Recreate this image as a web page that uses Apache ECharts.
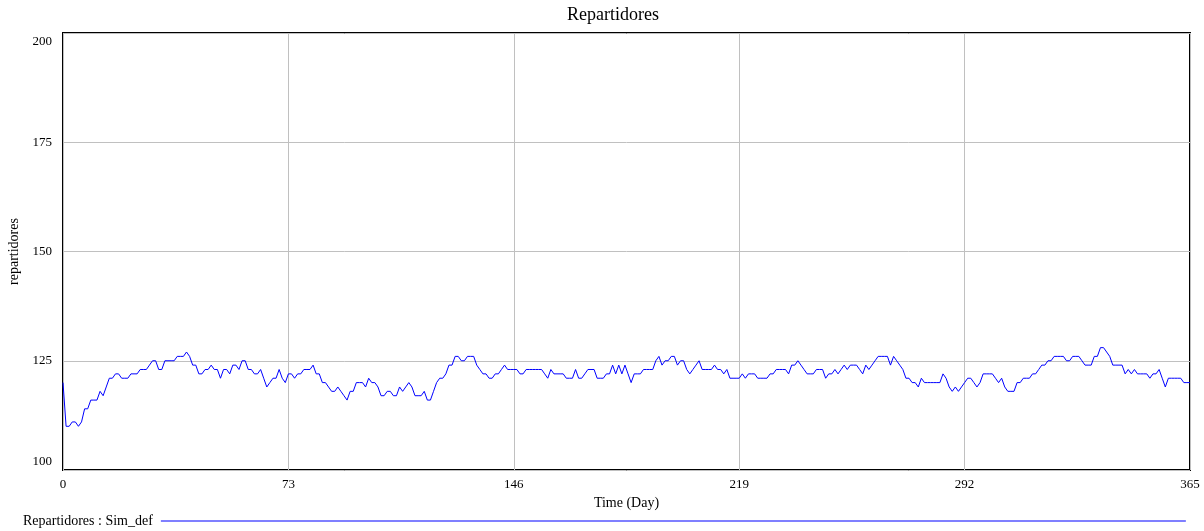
<!DOCTYPE html>
<html>
<head>
<meta charset="utf-8">
<script src="https://cdn.jsdelivr.net/npm/echarts@6/dist/echarts.min.js"></script>
<style>
  html, body { margin: 0; padding: 0; background: #fff; }
  #chart { width: 1204px; height: 531px; }
</style>
</head>
<body>
<div id="chart"></div>
<script>
// Daily number of delivery riders (repartidores) over one simulated year
const days = Array.from({ length: 366 }, (_, i) => i);
const repartidores = [
  120,110,110,111,111,110,111,114,114,116,116,116,118,117,119,121,121,122,122,121,
  121,121,122,122,122,123,123,123,124,125,125,123,123,125,125,125,125,126,126,126,
  127,126,124,124,122,122,123,123,124,123,123,121,123,123,122,124,124,123,125,125,
  123,123,122,122,123,121,119,120,121,121,123,121,120,122,122,121,122,122,123,123,
  123,124,122,122,120,120,119,118,118,119,118,117,116,118,118,120,120,120,119,121,
  120,120,119,117,117,118,118,117,117,119,118,119,120,119,117,117,117,118,116,116,
  118,120,121,121,122,124,124,126,126,125,125,126,126,126,124,123,122,122,121,121,
  122,122,123,124,123,123,123,123,122,122,123,123,123,123,123,123,122,121,123,122,
  122,122,122,121,121,121,123,121,121,122,123,123,123,121,121,121,122,122,124,122,
  124,122,124,122,120,122,122,122,123,123,123,123,125,126,124,125,125,126,126,124,
  125,125,123,122,123,124,125,123,123,123,123,124,123,123,122,123,121,121,121,121,
  122,121,122,122,122,121,121,121,121,122,122,123,123,123,123,122,124,124,125,124,
  123,122,122,122,123,123,123,121,122,122,123,122,123,124,123,124,124,124,123,122,
  124,123,124,125,126,126,126,126,124,126,125,124,123,121,121,120,120,119,121,120,
  120,120,120,120,120,122,121,119,118,119,118,119,120,121,121,120,119,120,122,122,
  122,122,121,120,121,119,118,118,118,120,120,121,121,121,122,122,123,124,124,125,
  125,126,126,126,126,125,125,126,126,126,125,124,124,124,126,126,128,128,127,126,
  124,124,124,124,122,123,122,123,122,122,122,122,121,122,122,123,121,119,121,121,
  121,121,121,120,120,120
];
const xTicks = { min: 0, max: 365, step: 73 };
const yTicks = { min: 100, max: 200, step: 25 };

const serif = 'Liberation Serif, Times New Roman, serif';
const chart = echarts.init(document.getElementById('chart'), null, { renderer: 'canvas' });

chart.setOption({
  animation: false,
  backgroundColor: '#fff',
  title: {
    text: 'Repartidores',
    left: 562,
    top: 1,
    textStyle: { fontFamily: serif, fontSize: 18, fontWeight: 'normal', color: '#000' }
  },
  legend: {
    left: 18,
    top: 509,
    align: 'right',
    icon: 'rect',
    itemWidth: 1025,
    itemHeight: 1,
    itemGap: 0,
    textStyle: { fontFamily: serif, fontSize: 14, color: '#000', padding: [0, 3, 0, 0] },
    data: ['Repartidores : Sim_def']
  },
  grid: {
    left: 63,
    right: 14,
    top: 33,
    bottom: 61,
    containLabel: false,
    outerBoundsMode: 'none',
    show: true,
    borderColor: '#000',
    borderWidth: 2,
    backgroundColor: 'transparent'
  },
  xAxis: {
    type: 'value',
    min: xTicks.min,
    max: xTicks.max,
    interval: xTicks.step,
    name: 'Time (Day)',
    nameLocation: 'middle',
    nameGap: 22,
    nameTextStyle: { fontFamily: serif, fontSize: 14, color: '#000' },
    axisLine: { show: false },
    axisTick: { show: false },
    axisLabel: { fontFamily: serif, fontSize: 13, color: '#000', margin: 8 },
    splitLine: { show: true, lineStyle: { color: '#c0c0c0', width: 1 } }
  },
  yAxis: {
    type: 'value',
    min: yTicks.min,
    max: yTicks.max,
    interval: yTicks.step,
    name: 'repartidores',
    nameLocation: 'middle',
    nameGap: 42,
    nameRotate: 90,
    nameTextStyle: { fontFamily: serif, fontSize: 14, color: '#000' },
    axisLine: { show: false },
    axisTick: { show: false },
    axisLabel: {
      fontFamily: serif, fontSize: 13, color: '#000', margin: 11,
      verticalAlignMinLabel: 'bottom',
      verticalAlignMaxLabel: 'top',
      padding: [2, 0, 2, 0]
    },
    splitLine: { show: true, lineStyle: { color: '#c0c0c0', width: 1 } }
  },
  series: [{
    name: 'Repartidores : Sim_def',
    type: 'line',
    data: days.map((d, i) => [d, repartidores[i]]),
    symbol: 'none',
    showSymbol: false,
    lineStyle: { color: '#0000ff', width: 1 },
    itemStyle: { color: '#0000ff' },
    z: 3
  }]
});
</script>
</body>
</html>
